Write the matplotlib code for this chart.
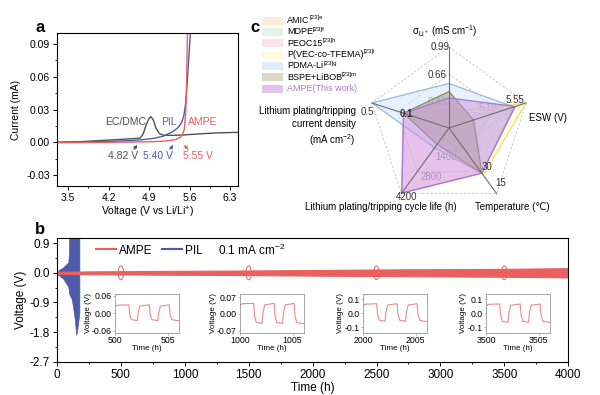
import matplotlib
matplotlib.use('Agg')
import matplotlib.pyplot as plt
from matplotlib.patches import Ellipse, Rectangle, Polygon
from matplotlib.lines import Line2D
from matplotlib.ticker import MultipleLocator, AutoMinorLocator
import numpy as np

plt.rcParams['font.family'] = ['Liberation Sans', 'DejaVu Sans']
plt.rcParams['mathtext.fontset'] = 'custom'
plt.rcParams['mathtext.rm'] = 'Liberation Sans'
plt.rcParams['mathtext.it'] = 'Liberation Sans:italic'
plt.rcParams['axes.unicode_minus'] = False
plt.rcParams['axes.linewidth'] = 0.8

# ---------------- data: panel a (LSV) ----------------
ecdmc_v = [3.30, 3.7, 4.0, 4.3, 4.6, 4.75, 4.80, 4.85, 4.90, 4.93, 4.97, 5.02, 5.08, 5.15, 5.3, 5.5, 5.7, 5.9, 6.1, 6.3, 6.44]
ecdmc_i = [0.0, 0.0006, 0.0015, 0.0024, 0.0033, 0.004, 0.008, 0.016, 0.022, 0.0235, 0.021, 0.013, 0.008, 0.0066, 0.0064, 0.0068, 0.0075, 0.0082, 0.0087, 0.009, 0.0092]
pil_v = [3.30, 3.8, 4.3, 4.6, 4.8, 5.0, 5.15, 5.3, 5.4, 5.46, 5.50, 5.53, 5.56, 5.59, 5.62]
pil_i = [0.0, 0.0004, 0.001, 0.0017, 0.0025, 0.0038, 0.0058, 0.0095, 0.0135, 0.018, 0.024, 0.035, 0.055, 0.08, 0.105]
ampe_v = [3.30, 4.0, 4.6, 5.0, 5.2, 5.35, 5.44, 5.48, 5.51, 5.53, 5.545, 5.555, 5.565]
ampe_i = [-0.0003, 0.0, 0.0003, 0.0007, 0.0013, 0.0025, 0.0046, 0.0075, 0.012, 0.025, 0.045, 0.075, 0.105]
onset_labels = ['4.82 V', '5.40 V', '5.55 V']

# ---------------- data: panel b (cycling) ----------------
band_t = [0, 170, 500, 1000, 1500, 2000, 2500, 3000, 3500, 4000]
band_hi = [0.03, 0.04, 0.05, 0.06, 0.07, 0.085, 0.1, 0.11, 0.12, 0.14]
band_lo = [-0.03, -0.04, -0.05, -0.06, -0.07, -0.085, -0.1, -0.11, -0.12, -0.14]
pil_t = [0, 10, 49, 89, 93, 97, 115, 128, 141, 150, 158, 166, 175]
pil_hi = [0.01, 0.07, 0.17, 0.32, 0.6, 1.2, 1.2, 1.2, 1.2, 1.2, 1.2, 1.2, 1.2]
pil_lo = [-0.01, -0.06, -0.18, -0.43, -0.55, -0.65, -0.79, -1.09, -1.48, -1.88, -1.75, -1.5, -1.2]
ellipse_t = [500, 1500, 2500, 3500]

inset_t0 = [500, 1000, 2000, 3500]
inset_yticks = [[-0.06, 0.0, 0.06], [-0.07, 0.0, 0.07], [-0.1, 0.0, 0.1], [-0.1, 0.0, 0.1]]
inset_ylim = [(-0.068, 0.067), (-0.08, 0.084), (-0.141, 0.137), (-0.141, 0.137)]
wave_dt = [0.0, 0.25, 1.3, 1.38, 1.55, 2.1, 2.18, 2.35, 3.25, 3.33, 3.5, 4.05, 4.13, 4.3, 5.15, 5.23, 5.4, 6.05]
wave_v = [
    [0.024, 0.028, 0.029, -0.005, -0.022, -0.025, 0.002, 0.025, 0.029, -0.005, -0.022, -0.025, 0.002, 0.025, 0.029, -0.005, -0.022, -0.026],
    [0.036, 0.043, 0.044, -0.008, -0.036, -0.040, 0.003, 0.038, 0.044, -0.008, -0.036, -0.040, 0.003, 0.038, 0.044, -0.008, -0.036, -0.041],
    [0.050, 0.064, 0.067, -0.010, -0.050, -0.057, 0.005, 0.058, 0.067, -0.010, -0.050, -0.057, 0.005, 0.058, 0.067, -0.010, -0.052, -0.060],
    [0.050, 0.063, 0.065, -0.010, -0.058, -0.065, 0.005, 0.056, 0.065, -0.010, -0.058, -0.065, 0.005, 0.056, 0.065, -0.010, -0.058, -0.066],
]

# ---------------- data: panel c (radar, radius 0-1 per axis) ----------------
radar_angles = [90, 18, -54, -126, 162]  # sigma, ESW, temperature, cycle life, current density
radar_names = ['AMIC', 'MDPE', 'PEOC15', 'P(VEC-co-TFEMA)', 'PDMA-Li', 'BSPE+LiBOB', 'AMPE(This work)']
radar_refs = ['[23]e', '[23]f', '[23]h', '[23]i', '[23]g', '[23]m', '']
radar_vals = [
    [0.08, 0.85, 0.30, 0.10, 0.59],
    [0.22, 0.55, 0.35, 0.15, 0.59],
    [0.30, 0.30, 0.69, 1.00, 0.59],
    [0.20, 1.00, 0.72, 0.12, 0.25],
    [0.55, 0.84, 0.69, 0.30, 1.00],
    [0.45, 0.32, 0.69, 0.25, 0.59],
    [0.37, 0.86, 0.69, 0.99, 0.59],
]
radar_face = [(0.98, 0.85, 0.75, 0.35), (0.80, 0.92, 0.80, 0.35), (0.97, 0.80, 0.87, 0.35),
              (1.0, 0.98, 0.72, 0.5), (0.82, 0.89, 0.98, 0.5), (0.60, 0.60, 0.46, 0.45),
              (0.80, 0.55, 0.88, 0.45)]
radar_edge = ['#e8b890', '#a8d4a8', '#f0a8c4', '#f0e070', '#98b8e0', '#8a8a68', '#a878cc']
radar_legend_face = ['#fdebdc', '#e4f3e4', '#fbe3ec', '#fdfbdf', '#e2edfb', '#d9d9c6', '#e3c3ee']
radar_ticks = ['0.33', '0.66', '0.99', '5.18', '5.55', '45', '30', '15', '1400', '2800', '4200', '0.1', '0.5']
radar_tick_xy = [(-0.15, 0.32), (-0.15, 0.65), (-0.11, 1.0), (0.48, 0.25), (0.81, 0.35),
                 (0.33, -0.27), (0.47, -0.48), (0.64, -0.68), (-0.04, -0.36), (-0.22, -0.6),
                 (-0.52, -0.85), (-0.52, 0.17), (-1.01, 0.2)]

RED = '#e8605f'
BLUE = '#4f5aa8'
GRAY = '#505050'

fig = plt.figure(figsize=(6, 3.95), dpi=100)

# ================= panel a =================
ax = fig.add_axes([0.095, 0.529, 0.302, 0.387])
ax.plot(ecdmc_v, ecdmc_i, color=GRAY, lw=1.0)
ax.plot(pil_v, pil_i, color=BLUE, lw=1.0)
ax.plot(ampe_v, ampe_i, color=RED, lw=1.0)
ax.set_xlim(3.31, 6.44)
ax.set_ylim(-0.04, 0.1)
ax.xaxis.set_major_locator(MultipleLocator(0.7))
ax.xaxis.set_minor_locator(AutoMinorLocator(2))
ax.set_yticks([-0.03, 0.0, 0.03, 0.06, 0.09])
ax.yaxis.set_minor_locator(AutoMinorLocator(2))
ax.tick_params(which='major', length=3, width=0.7, labelsize=7.5, pad=2)
ax.tick_params(which='minor', length=1.6, width=0.6)
ax.set_xlabel('Voltage (V vs Li/Li$^{+}$)', fontsize=7.5, labelpad=1)
ax.set_ylabel('Current (mA)', fontsize=7.5, labelpad=4)
ax.text(4.50, 0.019, 'EC/DMC', color=GRAY, fontsize=7.5, ha='center', va='center')
ax.text(5.24, 0.019, 'PIL', color=BLUE, fontsize=7.5, ha='center', va='center')
ax.text(5.82, 0.019, 'AMPE', color=RED, fontsize=7.5, ha='center', va='center')
for lab, x, c, x0, x1 in zip(onset_labels, [4.45, 5.06, 5.75], [GRAY, BLUE, RED],
                            [4.60, 5.23, 5.61], [4.73, 5.35, 5.47]):
    ax.text(x, -0.0128, lab, color=c, fontsize=7.5, ha='center', va='center')
    ax.annotate('', xy=(x1, -0.0005), xytext=(x0, -0.0085),
                arrowprops=dict(arrowstyle='-|>', color=c, lw=0.7, mutation_scale=5))
for xv in [5.40, 5.48, 5.55]:
    ax.plot([xv, xv], [-0.009, 0.003], color='#cccccc', lw=0.5, ls=':')
fig.text(0.067, 0.93, 'a', fontsize=12, fontweight='bold', ha='center', va='center')

# ================= panel b =================
bx = fig.add_axes([0.095, 0.084, 0.852, 0.313])
bx.fill_between(pil_t, pil_lo, pil_hi, color=BLUE, lw=0.5)
bx.fill_between(band_t, band_lo, band_hi, color=RED, lw=0.8, edgecolor=RED)
for t in ellipse_t:
    bx.add_patch(Ellipse((t, 0.0), width=42, height=0.42, fill=False, edgecolor=RED, lw=0.7))
bx.set_xlim(0, 4000)
bx.set_ylim(-2.7, 1.05)
bx.set_xticks(np.arange(0, 4001, 500))
bx.xaxis.set_minor_locator(AutoMinorLocator(2))
bx.set_yticks([-2.7, -1.8, -0.9, 0.0, 0.9])
bx.yaxis.set_minor_locator(AutoMinorLocator(2))
bx.tick_params(which='major', length=3, width=0.7, labelsize=8.5, pad=2)
bx.tick_params(which='minor', length=1.6, width=0.6)
bx.set_xlabel('Time (h)', fontsize=8.5, labelpad=1)
bx.set_ylabel('Voltage (V)', fontsize=8.5, labelpad=2)
handles = [Line2D([], [], color=RED, lw=1.5), Line2D([], [], color=BLUE, lw=1.5)]
bx.legend(handles, ['AMPE', 'PIL'], ncol=2, frameon=False, loc='center left',
          bbox_to_anchor=(0.076, 0.9), fontsize=8.5, handlelength=1.7, handletextpad=0.3,
          columnspacing=0.75, borderpad=0, borderaxespad=0)
bx.text(0.315, 0.9, '0.1 mA cm$^{-2}$', transform=bx.transAxes, fontsize=8.5, va='center')
fig.text(0.067, 0.418, 'b', fontsize=12, fontweight='bold', ha='center', va='center')

inset_left = [0.192, 0.400, 0.605, 0.810]
for k in range(4):
    ia = fig.add_axes([inset_left[k], 0.157, 0.106, 0.099])
    t0 = inset_t0[k]
    ia.plot([t0 + d for d in wave_dt], wave_v[k], color='#e98a8a', lw=0.8)
    ia.set_xlim(t0, t0 + 6.05)
    ia.set_ylim(*inset_ylim[k])
    ia.set_xticks([t0, t0 + 5])
    ia.set_yticks(inset_yticks[k])
    ia.set_yticklabels(['%.2f' % v if k < 2 else '%.1f' % v for v in inset_yticks[k]])
    for s in ia.spines.values():
        s.set_color('#999999')
        s.set_linewidth(0.6)
    ia.tick_params(length=1.5, width=0.5, labelsize=6.3, pad=1, color='#999999')
    ia.set_xlabel('Time (h)', fontsize=5.8, labelpad=0)
    ia.set_ylabel('Voltage (V)', fontsize=5.8, labelpad=0)

# ================= panel c (radar) =================
rx = fig.add_axes([0.5998, 0.4504, 0.297, 0.4511])
rx.set_xlim(-1.1, 1.1)
rx.set_ylim(-1.1, 1.1)
rx.axis('off')
ang = np.deg2rad(radar_angles)
for lev in [1 / 3, 2 / 3, 1.0]:
    xs = list(lev * np.cos(ang)) + [lev * np.cos(ang[0])]
    ys = list(lev * np.sin(ang)) + [lev * np.sin(ang[0])]
    rx.plot(xs, ys, color='#c4c4c4', lw=0.6, ls=(0, (3, 2)), zorder=0.5)
for lab, (tx, ty) in zip(radar_ticks, radar_tick_xy):
    dark = lab in ['0.99', '0.66', '5.55', '15', '4200', '0.5', '0.1', '30']
    rx.text(tx, ty, lab, fontsize=7, ha='center', va='center',
            color='#333333' if dark else '#777777', zorder=6 if dark else 0.8,
            fontweight='bold' if lab == '0.1' else 'normal', clip_on=False)
for vals, fc, ec in zip(radar_vals, radar_face, radar_edge):
    pts = np.column_stack([np.array(vals) * np.cos(ang), np.array(vals) * np.sin(ang)])
    rx.add_patch(Polygon(pts, closed=True, facecolor=fc, edgecolor=ec, lw=0.9, zorder=2))
for a in ang:
    rx.plot([0, np.cos(a)], [0, np.sin(a)], color='#707070', lw=0.8, zorder=3)

rx.text(-0.05, 1.2, '\u03c3$_{\\mathrm{Li^+}}$ (mS cm$^{-1}$)', fontsize=7, ha='center', va='center', clip_on=False)
rx.text(1.22, 0.12, 'ESW (V)', fontsize=7, ha='center', va='center', clip_on=False)
rx.text(0.78, -0.975, 'Temperature (\u2103)', fontsize=7, ha='center', va='center', clip_on=False)
rx.text(-0.84, -0.975, 'Lithium plating/tripping cycle life (h)', fontsize=7, ha='center', va='center', clip_on=False)
rx.text(-1.15, 0.01, 'Lithium plating/tripping\ncurrent density\n(mA cm$^{-2}$)', fontsize=7,
        ha='right', va='center', multialignment='right', linespacing=1.3, clip_on=False)

for i, name in enumerate(radar_names):
    yc = 1 - (20.7 + 11.3 * i) / 395
    fig.patches.append(Rectangle((262 / 600, yc - 4 / 395), 21 / 600, 8 / 395, transform=fig.transFigure,
                                 facecolor=radar_legend_face[i], edgecolor='none', figure=fig))
    tt = fig.text(287 / 600, yc, name, fontsize=6.5, va='center',
                  color='#b07cc9' if i == len(radar_names) - 1 else 'black')
    if radar_refs[i]:
        rx.annotate(radar_refs[i], xy=(1.0, 0.8), xycoords=tt, fontsize=4.3, va='center',
                    ha='left', annotation_clip=False)
fig.text(0.425, 0.93, 'c', fontsize=12, fontweight='bold', ha='center', va='center')

fig.savefig('out.png', dpi=100)
